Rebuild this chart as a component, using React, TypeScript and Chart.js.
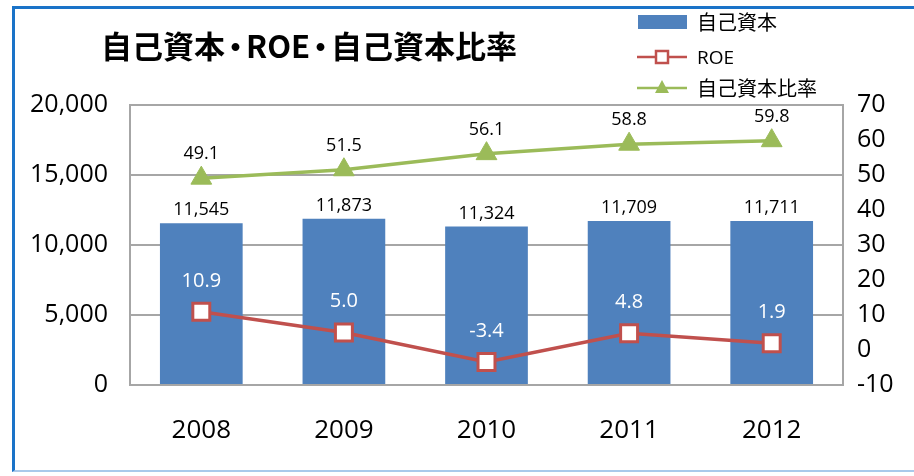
import React, { useEffect, useRef } from "react";
import { Chart, registerables } from "chart.js";

Chart.register(...registerables);

const years = ["2008", "2009", "2010", "2011", "2012"];
const equity = [11545, 11873, 11324, 11709, 11711];
const roe = [10.9, 5.0, -3.4, 4.8, 1.9];
const equityRatio = [49.1, 51.5, 56.1, 58.8, 59.8];
const leftTicks = [0, 5000, 10000, 15000, 20000];
const rightTicks = [-10, 0, 10, 20, 30, 40, 50, 60, 70];

const TITLE_PARTS = ["自己資本", "・", "ROE", "・", "自己資本比率"];
const LEGEND_EQUITY = "自己資本";
const LEGEND_ROE = "ROE";
const LEGEND_RATIO = "自己資本比率";

const BLUE = "#4F81BD";
const RED = "#C0504D";
const GREEN = "#9BBB59";
const GRID = "#A6A6A6";
const NUM_FONT = "'Open Sans', 'Noto Sans', sans-serif";
const JP_FONT = "'Noto Sans CJK JP', 'Noto Sans', sans-serif";

const labelStyles: Record<number, { color: string; size: number; offset: number; fmt: (v: number) => string }> = {
  0: { color: "#000", size: 18, offset: 13, fmt: (v) => v.toLocaleString("en-US") },
  1: { color: "#fff", size: 20, offset: 31, fmt: (v) => v.toFixed(1) },
  2: { color: "#000", size: 18, offset: 24, fmt: (v) => v.toFixed(1) },
};

const valueLabels = {
  id: "valueLabels",
  afterDatasetsDraw(chart: any) {
    const ctx = chart.ctx;
    chart.data.datasets.forEach((ds: any, i: number) => {
      const st = labelStyles[i];
      if (!st) return;
      const meta = chart.getDatasetMeta(i);
      meta.data.forEach((el: any, j: number) => {
        const v = ds.data[j] as number;
        ctx.save();
        ctx.font = `${st.size}px ${NUM_FONT}`;
        ctx.fillStyle = st.color;
        ctx.textAlign = "center";
        ctx.textBaseline = "middle";
        ctx.fillText(st.fmt(v), el.x, el.y - st.offset);
        ctx.restore();
      });
    });
  },
};

export default function App() {
  const ref = useRef<HTMLCanvasElement | null>(null);

  useEffect(() => {
    if (!ref.current) return;
    const chart = new Chart(ref.current, {
      type: "bar",
      data: {
        labels: years,
        datasets: [
          {
            type: "bar",
            label: LEGEND_EQUITY,
            data: equity,
            backgroundColor: BLUE,
            yAxisID: "y",
            barPercentage: 0.58,
            categoryPercentage: 1,
            order: 3,
          } as any,
          {
            type: "line",
            label: LEGEND_ROE,
            data: roe,
            borderColor: RED,
            borderWidth: 3.5,
            pointStyle: "rect",
            pointRadius: 12,
            pointBorderWidth: 3,
            pointBackgroundColor: "#fff",
            pointBorderColor: RED,
            yAxisID: "y1",
            order: 1,
          } as any,
          {
            type: "line",
            label: LEGEND_RATIO,
            data: equityRatio,
            borderColor: GREEN,
            borderWidth: 3.5,
            pointStyle: "triangle",
            pointRadius: 12,
            pointBorderWidth: 1,
            pointBackgroundColor: GREEN,
            pointBorderColor: GREEN,
            yAxisID: "y1",
            order: 2,
          } as any,
        ],
      },
      options: {
        responsive: false,
        animation: false,
        events: [],
        layout: { padding: { top: 105, left: 0, right: 0, bottom: 0 } },
        plugins: {
          legend: { display: false },
          title: { display: false },
          tooltip: { enabled: false },
        },
        scales: {
          x: {
            grid: { display: false },
            border: { display: true, color: GRID, width: 2 },
            ticks: {
              color: "#000",
              font: { family: NUM_FONT, size: 26 },
              padding: 22,
            },
            afterFit: (s: any) => {
              s.height = 91;
            },
          },
          y: {
            position: "left",
            min: 0,
            max: 20000,
            afterBuildTicks: (s: any) => {
              s.ticks = leftTicks.map((v) => ({ value: v }));
            },
            grid: { color: GRID, lineWidth: 2, drawTicks: false },
            border: { display: true, color: GRID, width: 2 },
            ticks: {
              color: "#000",
              font: { family: NUM_FONT, size: 25 },
              padding: 22,
              callback: (v: any) => Number(v).toLocaleString("en-US"),
            },
            afterFit: (s: any) => {
              s.width = 130;
            },
          },
          y1: {
            position: "right",
            min: -10,
            max: 70,
            afterBuildTicks: (s: any) => {
              s.ticks = rightTicks.map((v) => ({ value: v }));
            },
            grid: { display: false, drawTicks: false },
            border: { display: true, color: GRID, width: 2 },
            ticks: {
              color: "#000",
              font: { family: NUM_FONT, size: 25 },
              padding: 14,
              callback: (v: any) => String(v),
            },
            afterFit: (s: any) => {
              s.width = 71;
            },
          },
        },
      } as any,
      plugins: [valueLabels],
    });
    return () => chart.destroy();
  }, []);

  const row = (top: number, marker: React.ReactNode, text: string, font: string, size: number) => (
    <div
      style={{
        position: "absolute",
        left: 636,
        top: top - 15,
        height: 30,
        display: "flex",
        alignItems: "center",
        whiteSpace: "nowrap",
      }}
    >
      <svg width={52} height={30} style={{ display: "block" }}>
        {marker}
      </svg>
      <span style={{ marginLeft: 9, fontFamily: font, fontSize: size, color: "#000", lineHeight: "30px" }}>{text}</span>
    </div>
  );

  return (
    <div style={{ position: "fixed", left: 0, top: 0, width: 914, height: 476, overflow: "hidden", background: "#fff" }}>
      <canvas ref={ref} width={914} height={476} style={{ position: "absolute", left: 0, top: 0 }} />
      <div
        style={{
          position: "absolute",
          left: 12,
          top: 6,
          width: 920,
          height: 466,
          borderTop: "3px solid #1A73C8",
          borderLeft: "3px solid #1A73C8",
          borderBottom: "2px solid #A9C9EA",
          boxSizing: "border-box",
          pointerEvents: "none",
        }}
      />
      <div
        style={{
          position: "absolute",
          left: 101,
          top: 30,
          fontFamily: JP_FONT,
          fontWeight: 700,
          fontSize: 31,
          lineHeight: "30px",
          color: "#000",
          whiteSpace: "nowrap",
        }}
      >
        {TITLE_PARTS.map((p, i) =>
          p === "・" ? (
            <span key={i} style={{ margin: "0 -5px" }}>
              {p}
            </span>
          ) : (
            <span key={i}>{p}</span>
          )
        )}
      </div>
      {row(22, <rect x={2} y={8} width={49} height={14} fill={BLUE} />, LEGEND_EQUITY, JP_FONT, 20)}
      {row(
        57,
        <g>
          <line x1={1} y1={15} x2={51} y2={15} stroke={RED} strokeWidth={2.5} />
          <rect x={20} y={9} width={12} height={12} fill="#fff" stroke={RED} strokeWidth={2.5} />
        </g>,
        LEGEND_ROE,
        NUM_FONT,
        19
      )}
      {row(
        88,
        <g>
          <line x1={1} y1={15} x2={51} y2={15} stroke={GREEN} strokeWidth={2.5} />
          <polygon points="26,7 33,20 19,20" fill={GREEN} />
        </g>,
        LEGEND_RATIO,
        JP_FONT,
        20
      )}
    </div>
  );
}
